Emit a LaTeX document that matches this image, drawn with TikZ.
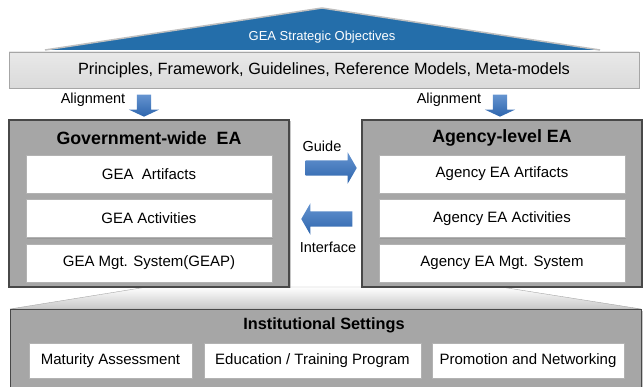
\documentclass[tikz,border=0pt]{standalone}
\usepackage{fontspec}
\setmainfont{Liberation Sans}
\usetikzlibrary{positioning,shapes.arrows,shadows}

\definecolor{roofblue}{RGB}{36,110,170}
\definecolor{arrowblue}{RGB}{50,112,192}
\definecolor{bandgray}{RGB}{218,218,218}
\definecolor{panelgray}{RGB}{166,166,166}
\definecolor{edgegray}{RGB}{72,72,72}

\tikzset{
  panel/.style={draw=edgegray, line width=1.2pt, fill=panelgray, inner sep=0pt,
    drop shadow={shadow xshift=1.5pt, shadow yshift=-1.5pt, opacity=.45}},
  item/.style={draw=black!30, fill=white, minimum height=38pt, inner sep=0pt,
    font=\fontsize{15}{18}\selectfont,
    drop shadow={shadow xshift=1pt, shadow yshift=-1.5pt, opacity=.35}},
  title/.style={font=\fontsize{17.8}{21}\selectfont\bfseries},
  note/.style={font=\fontsize{14.5}{17}\selectfont},
  bluearrow/.style={single arrow, draw=none, inner xsep=0pt, inner ysep=7.5pt,
    single arrow head extend=8pt, single arrow tip angle=120,
    minimum height=51pt, top color=arrowblue!75!white, bottom color=arrowblue!90!black},
  downarrow/.style={bluearrow, rotate=-90, inner ysep=7pt,
    single arrow tip angle=130, minimum height=22pt},
}

\begin{document}
\begin{tikzpicture}[x=1pt, y=-1pt]
  \useasboundingbox (0,0) rectangle (643,387);

  % Roof and shared basis
  \fill[roofblue] (45,50) -- (322,8) -- (600,50) -- cycle;
  \draw[black!25, line width=1.5pt, line join=round] (45,50) -- (322,8) -- (600,50);
  \node[font=\fontsize{13}{15}\selectfont, text=white] (goal) at (322,37) {GEA Strategic Objectives};
  \node[draw=black!35, top color=bandgray!60, bottom color=bandgray, minimum width=630pt,
    minimum height=36pt, font=\fontsize{16.3}{19}\selectfont,
    drop shadow={shadow xshift=1pt, shadow yshift=-1.5pt, opacity=.35}] (basis) at (324,70)
    {Principles, Framework, Guidelines, Reference Models, Meta-models};

  % Alignment arrows
  \node[downarrow] (alignl) at (144,104) {};
  \node[downarrow] (alignr) at (500,104) {};
  \node[note] (alignlt) at (93,100) {Alignment};
  \node[note] (alignrt) at (449,100) {Alignment};

  % Base of the institutional settings
  \draw[black!35, top color=white, bottom color=black!22] (147,287) -- (501,287) -- (641,309) -- (10,309) -- cycle;

  % Government-wide EA
  \node[panel, minimum width=280pt, minimum height=167pt] (gea) at (149,203.5) {};
  \node[title] (geat) at (149,138) {Government-wide~ EA};
  \node[item, minimum width=246pt] (ga) at (149,174) {GEA~ Artifacts};
  \node[item, minimum width=246pt, below=6pt of ga] (gb) {GEA Activities};
  \node[item, minimum width=246pt, below=6pt of gb] (gc) {GEA Mgt. System(GEAP)};

  % Agency-level EA
  \node[panel, minimum width=280pt, minimum height=167pt] (aea) at (502,203.5) {};
  \node[title] (aeat) at (502,138) {Agency-level EA};
  \node[item, minimum width=246pt] (aa) at (502,174) {Agency EA Artifacts};
  \node[item, minimum width=246pt, below=6pt of aa] (ab) {Agency EA Activities};
  \node[item, minimum width=246pt, below=6pt of ab] (ac) {Agency EA Mgt. System};

  % Guide and interface
  \node[bluearrow] (guide) at (329,168) {};
  \node[bluearrow, shape border rotate=180] (iface) at (329,219) {};
  \node[note] (guidet) at (322,146) {Guide};
  \node[note] (ifacet) at (328,247) {Interface};

  % Institutional settings
  \node[panel, minimum width=631pt, minimum height=82pt, anchor=north west] (inst) at (10,309) {};
  \node[font=\fontsize{16.3}{19}\selectfont\bfseries] (instt) at (324,325) {Institutional Settings};
  \node[item, minimum width=163pt, minimum height=35pt] (ia) at (110.5,360.5) {Maturity Assessment};
  \node[item, minimum width=217pt, minimum height=35pt] (ib) at (312.5,360.5) {Education / Training Program};
  \node[item, minimum width=192pt, minimum height=35pt] (ic) at (528,360.5) {Promotion and Networking};
\end{tikzpicture}
\end{document}
